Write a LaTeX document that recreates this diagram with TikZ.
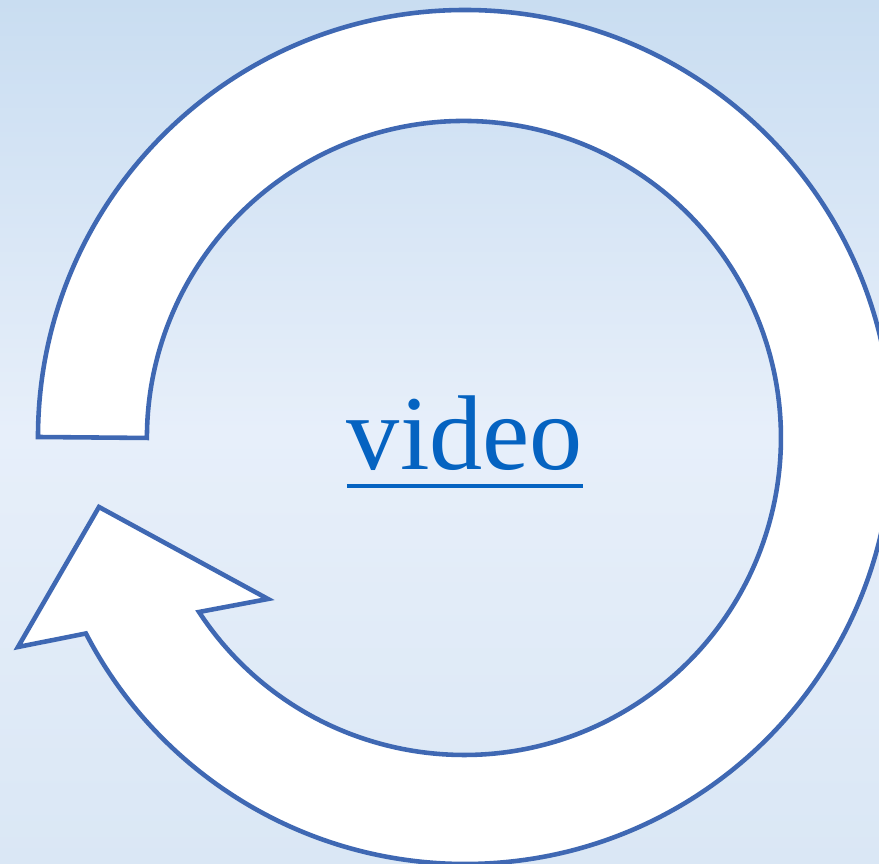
\documentclass[tikz,border=0pt]{standalone}
\usepackage{fontspec}
\setmainfont{Liberation Serif}
\definecolor{bgtop}{HTML}{C9DDF1}
\definecolor{bgmid}{HTML}{E7EFFA}
\definecolor{bgbot}{HTML}{DAE7F5}
\definecolor{ringline}{HTML}{3F68B3}
\definecolor{linkblue}{HTML}{0563C1}
\newsavebox\linkbox
\newcommand{\linkul}[1]{\sbox\linkbox{#1}\usebox\linkbox\llap{\rule[-10.2pt]{\wd\linkbox}{2.3pt}}}
\begin{document}
\begin{tikzpicture}[x=0.02cm,y=0.02cm]
                \shade[top color=bgtop, bottom color=bgbot, middle color=bgmid] (-465,-427) rectangle (414,437);
                \useasboundingbox (-465,-427) rectangle (414,437);
                \filldraw[fill=white, draw=ringline, line width=2.6pt, line join=miter]
                    (-427,0) arc[start angle=180, end angle=-152.6, radius=427]
                    -- (-447,-210) -- (-366,-70) -- (-197,-162) -- (-266,-175)
                    arc[start angle=-146.7, end angle=180, radius=317] -- cycle;
                \node[anchor=base, inner sep=0pt, text=linkblue, font=\fontsize{60.5}{72}\selectfont] (label) at (0,-33) {\linkul{video}};
            \end{tikzpicture}
\end{document}
